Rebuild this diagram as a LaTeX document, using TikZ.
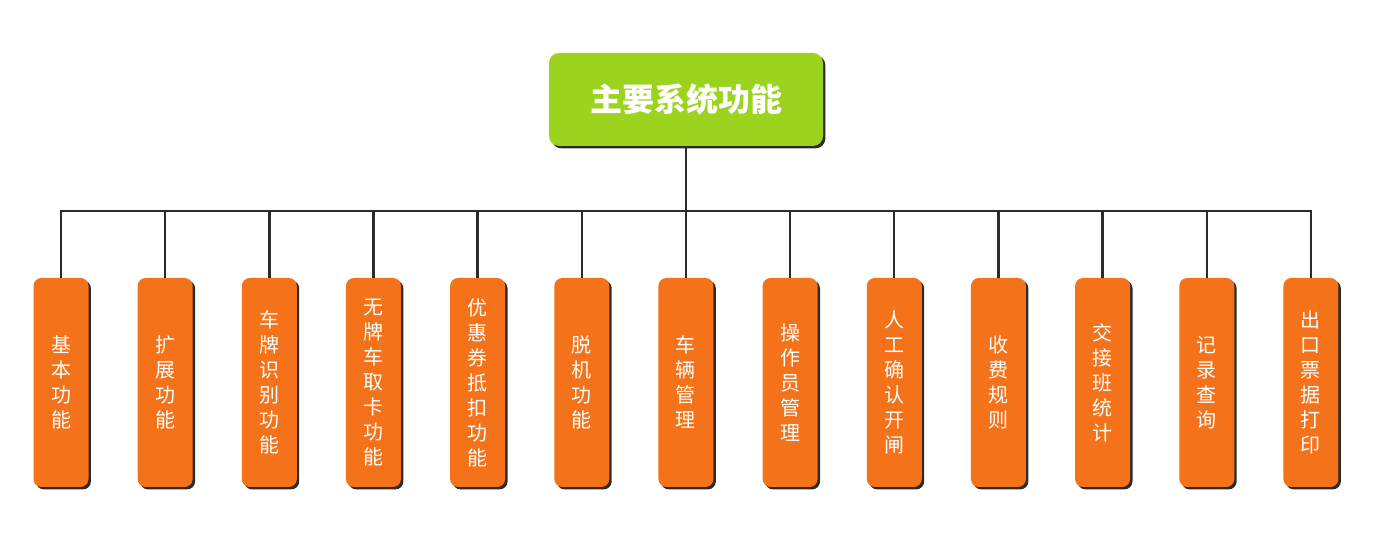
\documentclass[tikz,border=0pt]{standalone}
\usepackage{fontspec}
\newfontfamily\cjk{Noto Sans CJK SC}
\usepackage{tikz}
\usetikzlibrary{positioning,shadows}
\definecolor{rootgreen}{HTML}{9CD31F}
\definecolor{itemorange}{HTML}{F47219}
\definecolor{linegray}{HTML}{2B2B2B}
\tikzset{
  mainbox/.style={rectangle,rounded corners=5pt,fill=rootgreen,text=white,outer sep=0pt,
    minimum width=137pt,minimum height=46.5pt,font=\cjk\bfseries\fontsize{16pt}{19pt}\selectfont,
    drop shadow={shadow xshift=1.2pt,shadow yshift=-1.2pt,fill=linegray,opacity=1}},
  itembox/.style={rectangle,rounded corners=4pt,fill=itemorange,text=white,outer sep=0pt,
    minimum width=27.5pt,minimum height=104.5pt,inner sep=0pt,align=center,
    font=\cjk\fontsize{10pt}{12.5pt}\selectfont,
    drop shadow={shadow xshift=1.2pt,shadow yshift=-1.2pt,fill=linegray,opacity=1}},
  link/.style={draw=linegray,line width=1.2pt}
}
\begin{document}
\begin{tikzpicture}[node distance=24.58pt]
\useasboundingbox (0,0) rectangle (693pt,-274.5pt);
\node[mainbox] (root) at (343pt,-49.75pt) {主要系统功能};
\node[itembox] (f1) at (30.5pt,-191.25pt) {基\\本\\功\\能};
\node[itembox] (f2) [right=of f1] {扩\\展\\功\\能};
\node[itembox] (f3) [right=of f2] {车\\牌\\识\\别\\功\\能};
\node[itembox] (f4) [right=of f3] {无\\牌\\车\\取\\卡\\功\\能};
\node[itembox] (f5) [right=of f4] {优\\惠\\券\\抵\\扣\\功\\能};
\node[itembox] (f6) [right=of f5] {脱\\机\\功\\能};
\node[itembox] (f7) [right=of f6] {车\\辆\\管\\理};
\node[itembox] (f8) [right=of f7] {操\\作\\员\\管\\理};
\node[itembox] (f9) [right=of f8] {人\\工\\确\\认\\开\\闸};
\node[itembox] (f10) [right=of f9] {收\\费\\规\\则};
\node[itembox] (f11) [right=of f10] {交\\接\\班\\统\\计};
\node[itembox] (f12) [right=of f11] {记\\录\\查\\询};
\node[itembox] (f13) [right=of f12] {出\\口\\票\\据\\打\\印};
\coordinate (bus) at (343pt,-105.5pt);
\draw[link] (root.south) -- (bus);
\draw[link] (f1.north) |- (bus) -| (f13.north);
\foreach \i in {2,...,12}
  \draw[link] (f\i.north) -- (f\i.north |- bus);
\end{tikzpicture}
\end{document}
